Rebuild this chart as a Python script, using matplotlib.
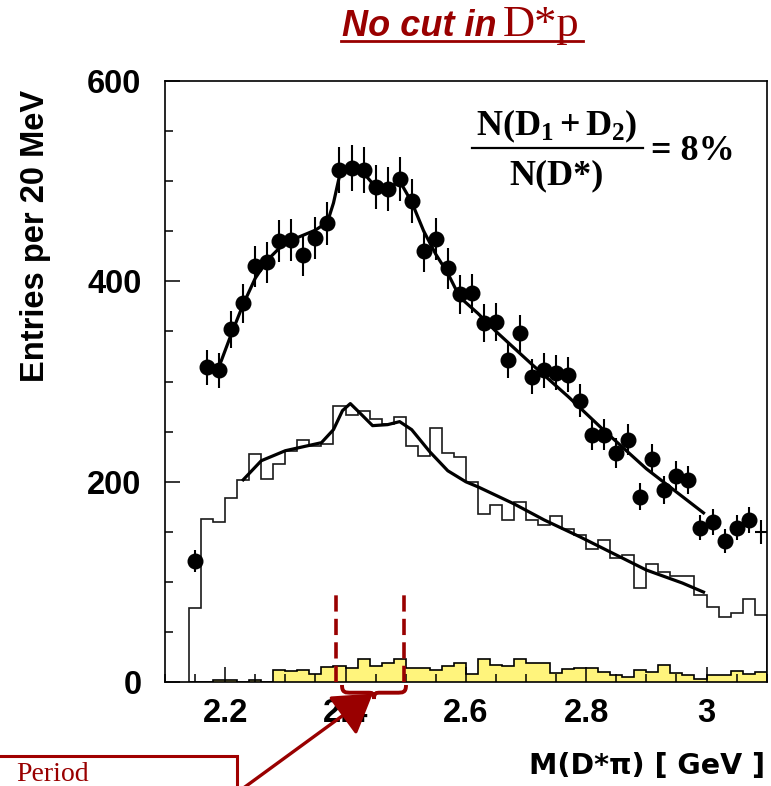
import numpy as np
import matplotlib.pyplot as plt
from matplotlib.patches import Rectangle, FancyArrowPatch, PathPatch
from matplotlib.path import Path
from matplotlib.lines import Line2D
from matplotlib.ticker import MultipleLocator, FixedLocator, FixedFormatter

plt.rcParams['mathtext.fontset'] = 'custom'
plt.rcParams['mathtext.rm'] = 'Liberation Serif'
plt.rcParams['mathtext.bf'] = 'Liberation Serif:bold'
plt.rcParams['mathtext.it'] = 'Liberation Serif:italic'

# 20 MeV bins, first edge at 2.14 GeV
bin_lo = 2.14
bin_w = 0.02

# D* pi data points (bin centres 2.15 ... 3.09)
data_counts = [121, 314, 311, 352, 378, 415, 419, 440, 441, 426, 443, 458,
               511, 513, 511, 494, 492, 502, 480, 430, 442, 413, 387, 388,
               358, 359, 321, 348, 305, 311, 309, 307, 281, 247, 247, 229,
               242, 185, 223, 192, 206, 202, 154, 160, 141, 154, 162, 150]

# open histogram
bkg_counts = [74, 163, 160, 184, 202, 228, 203, 218, 231, 242, 236, 238,
              276, 267, 271, 263, 258, 265, 236, 226, 254, 229, 225, 200,
              168, 177, 162, 180, 162, 157, 166, 153, 147, 133, 142, 124,
              127, 94, 118, 110, 106, 106, 87, 75, 65, 69, 83, 67]

# yellow histogram
side_counts = [0, 0, 2, 2, 0, 2, 0, 12, 11, 12, 8, 15,
               16, 14, 23, 16, 19, 23, 14, 14, 12, 16, 19, 8,
               23, 17, 16, 23, 19, 19, 9, 13, 14, 14, 10, 7,
               5, 12, 10, 17, 9, 7, 3, 7, 7, 11, 8, 10]

# fitted curves
fit_data_x = [2.19, 2.21, 2.23, 2.25, 2.27, 2.29, 2.31, 2.33, 2.35, 2.37,
              2.38, 2.39, 2.41, 2.43, 2.45, 2.47, 2.49, 2.51, 2.53, 2.55,
              2.57, 2.59, 2.62, 2.65, 2.71, 2.77, 2.83, 2.90, 2.995]
fit_data_y = [315, 347, 377, 403, 421, 433, 441, 446, 451, 459,
              478, 505, 518, 508, 494, 492, 500, 479, 450, 427,
              408, 384, 368, 350, 317, 285, 251, 213, 169]

fit_bkg_x = [2.23, 2.26, 2.30, 2.345, 2.36, 2.38, 2.395, 2.408, 2.425, 2.445,
             2.47, 2.49, 2.51, 2.54, 2.57, 2.60, 2.62, 2.68, 2.73, 2.79,
             2.85, 2.90, 2.96, 2.995]
fit_bkg_y = [202, 221, 231, 237, 239, 252, 271, 278, 268, 256,
             257, 260, 252, 230, 211, 200, 195, 178, 162, 145,
             127, 112, 99, 90]

# mass window marked by dashed lines
window_x = [2.385, 2.497]
window_top = [89, 93]

xticks = [2.2, 2.4, 2.6, 2.8, 3.0]
xtick_labels = ['2.2', '2.4', '2.6', '2.8', '3']
yticks = [0, 200, 400, 600]

DARKRED = '#990000'
W, H = 771, 786


def fx(px):
    return px / W


def fy(py):
    return 1 - py / H


edges = bin_lo + bin_w * np.arange(len(data_counts) + 1)
centers = edges[:-1] + bin_w / 2
data_counts = np.array(data_counts)

fig = plt.figure(figsize=(W / 100, H / 100), dpi=100)
ax = fig.add_axes([0.214, 0.1319, 0.7804, 0.7654])

ax.stairs(side_counts, edges, fill=True, color='#fff47c', zorder=1)
ax.stairs(side_counts, edges, color='black', lw=1.2, zorder=1.1)
ax.stairs(bkg_counts, edges, color='#1a1a1a', lw=1.2, zorder=2)
ax.plot(fit_bkg_x, fit_bkg_y, color='black', lw=2.3, zorder=3)
ax.plot(fit_data_x, fit_data_y, color='black', lw=2.3, zorder=3)
ax.errorbar(centers, data_counts, yerr=np.sqrt(data_counts), xerr=bin_w / 2,
            fmt='none', ecolor='black', elinewidth=1.5, capsize=0, zorder=4)
ax.plot(centers[:-1], data_counts[:-1], 'o', ms=10.5, color='black', zorder=5)

ax.vlines(window_x, 0, window_top, colors=DARKRED, lw=2.6,
          linestyles=(0, (4.5, 2.0)), zorder=6)

ax.set_xlim(2.1, 3.1)
ax.set_ylim(0, 600)
ax.xaxis.set_major_locator(FixedLocator(xticks))
ax.xaxis.set_major_formatter(FixedFormatter(xtick_labels))
ax.xaxis.set_minor_locator(MultipleLocator(0.05))
ax.yaxis.set_major_locator(FixedLocator(yticks))
ax.yaxis.set_minor_locator(MultipleLocator(50))
ax.tick_params(which='both', direction='in', top=False, right=False,
               width=1.1, color='black')
ax.tick_params(which='major', length=11)
ax.tick_params(which='minor', length=5.5)
ax.tick_params(axis='x', pad=11)
ax.tick_params(axis='y', pad=17)
for lab in ax.get_xticklabels() + ax.get_yticklabels():
    lab.set_fontfamily('Liberation Sans')
    lab.set_fontweight('bold')
    lab.set_fontsize(23.5)
for sp in ax.spines.values():
    sp.set_linewidth(1.2)

fig.text(fx(36), fy(90), 'Entries per 20 MeV', rotation=90, ha='center',
         va='top', fontsize=23.5, fontweight='bold', family='Liberation Sans')
fig.text(fx(765), fy(774), 'M(D*π) [ GeV ]', ha='right', va='baseline',
         fontsize=20.5, fontweight='bold', family='DejaVu Sans')

# ratio formula
fig.text(fx(557), fy(135), r'$\mathbf{N(D_1+D_2)}$', ha='center',
         va='baseline', fontsize=26)
fig.add_artist(Line2D([fx(472), fx(643)], [fy(148), fy(148)],
                      color='black', lw=1.6))
fig.text(fx(557), fy(184), 'N(D*)', ha='center', va='baseline', fontsize=26,
         fontweight='bold', family='Liberation Serif')
fig.text(fx(651), fy(160), '= 8%', ha='left', va='baseline', fontsize=26,
         fontweight='bold', family='Liberation Serif')

# title
fig.text(fx(497), fy(36), 'No cut in', ha='right', va='baseline',
         fontsize=26, style='italic', fontweight='bold',
         family='Liberation Sans', color=DARKRED)
fig.text(fx(503), fy(36), 'D*p', ha='left', va='baseline', fontsize=32,
         family='Liberation Serif', color=DARKRED)
fig.add_artist(Line2D([fx(341), fx(583)], [fy(41), fy(41)],
                      color=DARKRED, lw=2))

# brace under the mass window
x0, x1, yt, yb = 342, 406, 685, 699
xc, ym, w = (x0 + x1) / 2, yt + 0.55 * (yb - yt), x1 - x0
pts = [(x0, yt), (x0, ym), (x0 + 0.05 * w, ym), (x0 + 0.15 * w, ym),
       (xc - 0.1 * w, ym),
       (xc - 0.03 * w, ym), (xc, ym), (xc, yb),
       (xc, ym), (xc + 0.03 * w, ym), (xc + 0.1 * w, ym),
       (x1 - 0.15 * w, ym),
       (x1 - 0.05 * w, ym), (x1, ym), (x1, yt)]
codes = [Path.MOVETO, Path.CURVE4, Path.CURVE4, Path.CURVE4, Path.LINETO,
         Path.CURVE4, Path.CURVE4, Path.CURVE4,
         Path.CURVE4, Path.CURVE4, Path.CURVE4, Path.LINETO,
         Path.CURVE4, Path.CURVE4, Path.CURVE4]
brace = Path([(fx(px), fy(py)) for px, py in pts], codes)
fig.add_artist(PathPatch(brace, fill=False, edgecolor=DARKRED, lw=2.8,
                         transform=fig.transFigure))

# box and arrow at the bottom left
fig.add_artist(Rectangle((fx(-10), fy(800)), fx(247), fy(756) - fy(800),
                         transform=fig.transFigure, facecolor='white',
                         edgecolor='#a00000', lw=2.2, clip_on=False))
fig.text(fx(16), fy(781), 'Period', ha='left', va='baseline', fontsize=20,
         family='Liberation Serif', color=DARKRED)
fig.add_artist(FancyArrowPatch((fx(238), fy(792)), (fx(375), fy(692)),
                               transform=fig.transFigure,
                               arrowstyle='-|>,head_length=0.95,head_width=0.6',
                               mutation_scale=25, color=DARKRED, lw=2.4))

fig.savefig('out.png', dpi=100)
